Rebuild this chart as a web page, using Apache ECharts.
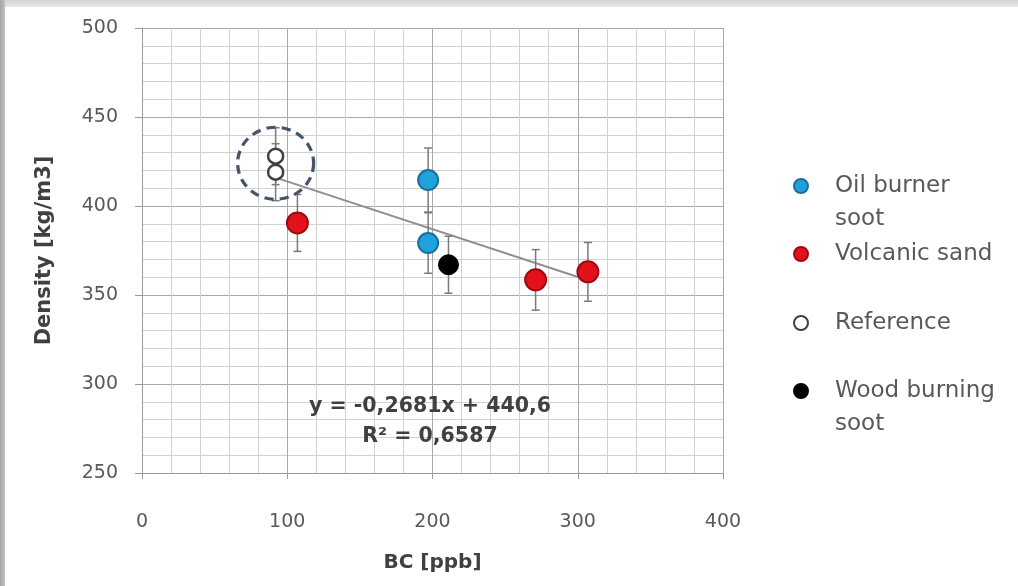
<!DOCTYPE html>
<html>
<head>
<meta charset="utf-8">
<script src="https://cdn.jsdelivr.net/npm/echarts@6/dist/echarts.min.js"></script>
<style>
html,body{margin:0;padding:0;background:#fff;}
#c{width:1018px;height:586px;}
</style>
</head>
<body>
<div id="c"></div>
<script>
// ---- data ----
const seriesNames = ['Oil burner soot', 'Volcanic sand', 'Reference', 'Wood burning soot'];
const oilX = [197, 197];
const oilY = [414.6, 379.2];
const oilErr = [18, 17];
const volX = [107, 271, 307];
const volY = [390.5, 358.5, 363];
const volErr = [16, 17, 16.5];
const refX = [92, 92];
const refY = [428, 419];
const refErr = [16, 16];
const woodX = [211];
const woodY = [367];
const woodErr = [16];
const trendSlope = -0.2681;
const trendIntercept = 440.6;
const trendText = ['y = -0,2681x + 440,6', 'R² = 0,6587'];
const xTicks = [0, 100, 200, 300, 400];
const yTicks = [250, 300, 350, 400, 450, 500];
const highlight = {x: 92, y: 424}; // dashed ring around the reference points

function pts(xs, ys) { return xs.map((x, i) => [x, ys[i]]); }
function errPts(xs, ys, es) { return xs.map((x, i) => [x, ys[i], es[i]]); }

const allX = [].concat(oilX, volX, refX, woodX);
const minX = Math.min.apply(null, allX), maxX = Math.max.apply(null, allX);
const trendData = [[minX, trendSlope * minX + trendIntercept], [maxX, trendSlope * maxX + trendIntercept]];

const errData = [].concat(errPts(oilX, oilY, oilErr), errPts(volX, volY, volErr), errPts(refX, refY, refErr), errPts(woodX, woodY, woodErr));

const chart = echarts.init(document.getElementById('c'), null, {renderer: 'canvas'});

const legendText = {fontFamily: 'DejaVu Sans', fontSize: 23, color: '#595959', lineHeight: 33, padding: [0, 0, 0, 22]};
function legendItem(name, top, label) {
  return {
    data: [name], orient: 'vertical', left: 788, top: top,
    icon: 'circle', itemWidth: 14, itemHeight: 14, selectedMode: false,
    formatter: () => label,
    textStyle: legendText
  };
}

const eqStyle = {textAlign: 'center', textVerticalAlign: 'middle', fontFamily: 'DejaVu Sans', fontWeight: 'bold', fontSize: 20.5, fill: '#404040'};

const option = {
  backgroundColor: '#ffffff',
  animation: false,
  graphic: [
    {type: 'rect', z: -10, shape: {x: 0, y: 0, width: 1018, height: 7},
     style: {fill: new echarts.graphic.LinearGradient(0, 0, 0, 1, [{offset: 0, color: '#d4d4d4'}, {offset: 1, color: '#e6e6e6'}])}},
    {type: 'rect', z: -9, shape: {x: 0, y: 0, width: 5, height: 586},
     style: {fill: new echarts.graphic.LinearGradient(0, 0, 1, 0, [{offset: 0, color: '#a4a4a4'}, {offset: 1, color: '#c4c4c4'}])}},
    {type: 'text', z: 10, x: 430, y: 407, style: Object.assign({text: trendText[0]}, eqStyle)},
    {type: 'text', z: 10, x: 430, y: 437, style: Object.assign({text: trendText[1]}, eqStyle)}
  ],
  grid: {left: 142, right: 295, top: 28, bottom: 113, show: false},
  legend: [
    legendItem(seriesNames[0], 131.5, ' \nOil burner\nsoot'),
    legendItem(seriesNames[1], 232.5, 'Volcanic sand'),
    legendItem(seriesNames[2], 301.5, 'Reference'),
    legendItem(seriesNames[3], 336.5, ' \nWood burning\nsoot')
  ],
  xAxis: {
    type: 'value', min: xTicks[0], max: xTicks[xTicks.length - 1], interval: 100,
    name: 'BC [ppb]', nameLocation: 'middle', nameGap: 80,
    nameTextStyle: {fontFamily: 'DejaVu Sans', fontWeight: 'bold', fontSize: 20, color: '#404040'},
    axisLine: {show: true, lineStyle: {color: '#9a9a9a', width: 1}},
    axisTick: {show: true, length: 6, lineStyle: {color: '#9a9a9a'}},
    axisLabel: {margin: 40, fontFamily: 'DejaVu Sans', fontSize: 19, color: '#595959'},
    splitLine: {show: true, lineStyle: {color: '#a8a8a8', width: 1}},
    minorTick: {show: false, splitNumber: 5},
    minorSplitLine: {show: true, lineStyle: {color: '#d2d2d2', width: 1}}
  },
  yAxis: {
    type: 'value', min: yTicks[0], max: yTicks[yTicks.length - 1], interval: 50,
    name: 'Density [kg/m3]', nameLocation: 'middle', nameGap: 87,
    nameTextStyle: {fontFamily: 'DejaVu Sans', fontWeight: 'bold', fontSize: 21, color: '#404040'},
    axisLine: {show: true, lineStyle: {color: '#9a9a9a', width: 1}},
    axisTick: {show: true, length: 7, lineStyle: {color: '#9a9a9a'}},
    axisLabel: {margin: 24, fontFamily: 'DejaVu Sans', fontSize: 19, color: '#595959'},
    splitLine: {show: true, lineStyle: {color: '#a8a8a8', width: 1}},
    minorTick: {show: false, splitNumber: 5},
    minorSplitLine: {show: true, lineStyle: {color: '#d2d2d2', width: 1}}
  },
  series: [
    {
      name: 'trend', type: 'line', data: trendData, symbol: 'none', silent: true, z: 2,
      lineStyle: {color: '#8f8f8f', width: 2}
    },
    {
      name: 'errors', type: 'custom', data: errData, z: 3, silent: true,
      encode: {x: 0, y: 1},
      renderItem: function (params, api) {
        const x = api.value(0), y = api.value(1), e = api.value(2);
        const t = api.coord([x, y + e]), b = api.coord([x, y - e]);
        const st = {stroke: '#7a7a7a', lineWidth: 1.5};
        return {type: 'group', children: [
          {type: 'line', shape: {x1: t[0], y1: t[1], x2: b[0], y2: b[1]}, style: st},
          {type: 'line', shape: {x1: t[0] - 4, y1: t[1], x2: t[0] + 4, y2: t[1]}, style: st},
          {type: 'line', shape: {x1: b[0] - 4, y1: b[1], x2: b[0] + 4, y2: b[1]}, style: st}
        ]};
      }
    },
    {
      name: seriesNames[0], type: 'scatter', data: pts(oilX, oilY), symbolSize: 20, z: 5,
      itemStyle: {color: '#1fa2db', borderColor: '#1b6e9c', borderWidth: 2, opacity: 1}
    },
    {
      name: seriesNames[1], type: 'scatter', data: pts(volX, volY), symbolSize: 21, z: 5,
      itemStyle: {color: '#e3111b', borderColor: '#9c0b12', borderWidth: 2, opacity: 1}
    },
    {
      name: seriesNames[2], type: 'scatter', data: pts(refX, refY), symbolSize: 15, z: 5,
      itemStyle: {color: '#ffffff', borderColor: '#404040', borderWidth: 2.5, opacity: 1}
    },
    {
      name: seriesNames[3], type: 'scatter', data: pts(woodX, woodY), symbolSize: 20, z: 5,
      itemStyle: {color: '#000000', borderColor: '#000000', borderWidth: 1, opacity: 1}
    },
    {
      name: 'ring', type: 'scatter', data: [[highlight.x, highlight.y]], symbolSize: [76, 72], z: 6, silent: true,
      itemStyle: {color: 'rgba(0,0,0,0)', borderColor: '#44546a', borderWidth: 3.2, borderType: [9, 6], opacity: 1}
    }
  ]
};
chart.setOption(option);
</script>
</body>
</html>
